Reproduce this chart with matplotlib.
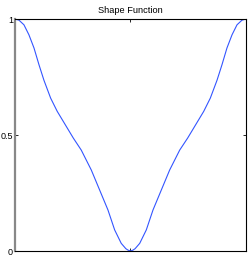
import matplotlib
matplotlib.use("Agg")
import matplotlib.pyplot as plt

# --------------------------------------------------
# Data
# --------------------------------------------------
x_vals = [-1.0, -0.965, -0.922, -0.879, -0.835, -0.792, -0.749, -0.691,
          -0.634, -0.547, -0.495, -0.426, -0.339, -0.267, -0.195, -0.137,
          -0.080, -0.040, -0.022, 0.0,
          0.022, 0.040, 0.080, 0.137, 0.195, 0.267, 0.339, 0.426,
          0.495, 0.547, 0.634, 0.691, 0.749, 0.792, 0.835, 0.879,
          0.922, 0.965, 1.0]
y_vals = [1.0, 0.995, 0.975, 0.932, 0.875, 0.803, 0.736, 0.659,
          0.602, 0.530, 0.487, 0.435, 0.349, 0.263, 0.177, 0.091,
          0.033, 0.010, 0.004, 0.0,
          0.004, 0.010, 0.033, 0.091, 0.177, 0.263, 0.349, 0.435,
          0.487, 0.530, 0.602, 0.659, 0.736, 0.803, 0.875, 0.932,
          0.975, 0.995, 1.0]
y_ticks = [0, 0.5, 1]
y_ticklabels = ['0', '0.5', '1']
title = 'Shape Function'

# --------------------------------------------------
# Plot
# --------------------------------------------------
plt.rcParams['font.family'] = ['Liberation Sans', 'DejaVu Sans']

fig = plt.figure(figsize=(2.49, 2.57), dpi=100)
ax = fig.add_axes([0.060, 0.0233, 0.928, 0.9027])

ax.plot(x_vals, y_vals, color='#3355ff', linewidth=0.8)

ax.set_xlim(-1, 1)
ax.set_ylim(0, 1)
ax.set_xticks([0])
ax.set_xticklabels([])
ax.set_yticks(y_ticks)
ax.set_yticklabels(y_ticklabels)
ax.tick_params(direction='in', length=2.5, width=0.6, labelsize=6.5,
               top=True, right=True, pad=1.5)

for spine in ax.spines.values():
    spine.set_linewidth(0.8)
ax.spines['left'].set_color('#888888')
ax.spines['left'].set_linewidth(1.6)

ax.set_title(title, fontsize=6.7, pad=4)

fig.savefig('out.png', dpi=100)
